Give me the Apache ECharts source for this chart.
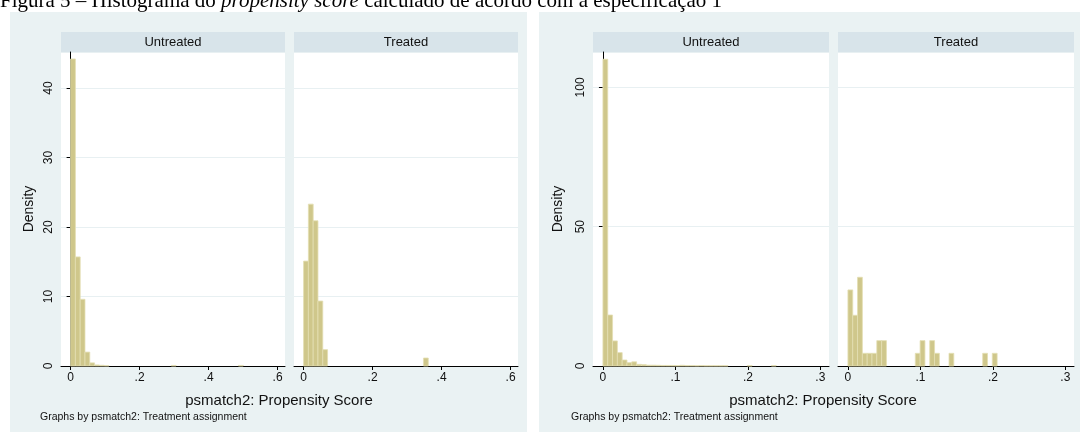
<!DOCTYPE html>
<html>
<head>
<meta charset="utf-8">
<script src="https://cdn.jsdelivr.net/npm/echarts@6/dist/echarts.min.js"></script>
<style>
html,body{margin:0;padding:0;background:#fff;}
#c{width:1080px;height:432px;}
</style>
</head>
<body>
<div id="c"></div>
<script>
// ---- data ----
const panelNames = ['Untreated', 'Treated'];
// Left graph (specification 1, full range) — histogram bins start at 0
const binWidthA = 0.0139;
const untreatedA = [44.2, 15.7, 9.6, 2.0, 0.45, 0.15, 0.1, 0.05, 0, 0, 0, 0, 0, 0, 0, 0, 0, 0, 0, 0, 0, 0.08, 0, 0, 0, 0, 0, 0, 0, 0, 0, 0, 0, 0, 0, 0.08];
const treatedA = [15.1, 23.3, 20.9, 9.35, 2.35, 0, 0, 0, 0, 0, 0, 0, 0, 0, 0, 0, 0, 0, 0, 0, 0, 0, 0, 0, 0, 1.15];
const xTicksA = [0, 0.2, 0.4, 0.6];
const yTicksA = 10;
// Right graph (restricted range)
const binWidthB = 0.00664;
const untreatedB = [110.1, 18.3, 9.0, 4.8, 2.15, 1.2, 1.5, 0.6, 0.5, 0.3, 0.3, 0.25, 0.2, 0.2, 0.2, 0.15, 0.25, 0.15, 0.15, 0.1, 0.15, 0.1, 0.1, 0.1, 0.1, 0.1, 0, 0, 0, 0, 0.15, 0, 0, 0, 0, 0.15];
const treatedB = [27.3, 18.2, 31.85, 4.55, 4.55, 4.55, 9.1, 9.1, 0, 0, 0, 0, 0, 0, 4.55, 9.1, 0, 9.1, 4.55, 0, 0, 4.55, 0, 0, 0, 0, 0, 0, 4.55, 0, 4.55];
const xTicksB = [0, 0.1, 0.2, 0.3];
const yTicksB = 50;
const yLabel = 'Density';
const xLabel = 'psmatch2: Propensity Score';
const footNote = 'Graphs by psmatch2: Treatment assignment';

// ---- chart ----
const FONT = 'Liberation Sans, Arial, sans-serif';
const BAR = '#cfc78b', BAR_EDGE = '#e3deb3';
const BG = '#eaf2f3', STRIP = '#d8e4ea', GRIDC = '#e8f0f2';

function bins(arr, w) {
  const out = [];
  arr.forEach((h, i) => { if (h > 0) out.push([i * w, (i + 1) * w, h]); });
  return out;
}
function fmt(v) { return v === 0 ? '0' : String(v).replace(/^0\./, '.'); }

const panels = [
  {left: 61, width: 224, data: bins(untreatedA, binWidthA), xmin: -0.0278, xmax: 0.6215, ymax: 45.2, yint: yTicksA, xt: xTicksA, main: true, gap: 25},
  {left: 294, width: 224, data: bins(treatedA, binWidthA), xmin: -0.0278, xmax: 0.6215, ymax: 45.2, yint: yTicksA, xt: xTicksA, main: false, gap: 25},
  {left: 593, width: 236, data: bins(untreatedB, binWidthB), xmin: -0.0137, xmax: 0.3119, ymax: 112.7, yint: yTicksB, xt: xTicksB, main: true, gap: 28},
  {left: 838, width: 236, data: bins(treatedB, binWidthB), xmin: -0.0137, xmax: 0.3119, ymax: 112.7, yint: yTicksB, xt: xTicksB, main: false, gap: 28}
];
const TOP = 52, H = 314;

const grid = [], xAxis = [], yAxis = [], series = [];
panels.forEach((p, i) => {
  grid.push({left: p.left, top: TOP, width: p.width, height: H, show: true, backgroundColor: '#fff', borderWidth: 0});
  xAxis.push({
    type: 'value', gridIndex: i, min: p.xmin, max: p.xmax,
    axisLine: {show: true, onZero: false, lineStyle: {color: '#000', width: 1}},
    axisTick: {show: true, length: 4, lineStyle: {color: '#000'}, customValues: p.xt},
    axisLabel: {show: true, customValues: p.xt, formatter: fmt, color: '#111', fontFamily: FONT, fontSize: 12, margin: 6},
    splitLine: {show: false}
  });
  yAxis.push({
    type: 'value', gridIndex: i, min: 0, max: p.ymax, interval: p.yint,
    name: p.main ? yLabel : '', nameLocation: 'middle', nameGap: p.gap,
    nameTextStyle: {color: '#111', fontFamily: FONT, fontSize: 14},
    axisLine: {show: p.main, lineStyle: {color: '#000', width: 1}},
    axisTick: {show: p.main, length: 4, lineStyle: {color: '#000'}},
    axisLabel: {show: p.main, rotate: 90, color: '#111', fontFamily: FONT, fontSize: 12, margin: 6, showMaxLabel: false},
    splitLine: {show: true, lineStyle: {color: GRIDC, width: 1}}
  });
  series.push({
    type: 'custom', xAxisIndex: i, yAxisIndex: i, data: p.data, silent: true,
    renderItem: function (params, api) {
      const a = api.coord([api.value(0), api.value(2)]);
      const b = api.coord([api.value(1), 0]);
      return {type: 'rect', shape: {x: a[0], y: a[1], width: b[0] - a[0], height: b[1] - a[1]},
        style: {fill: BAR, stroke: BAR_EDGE, lineWidth: 0.8}};
    }
  });
});

const graphic = [
  {type: 'rect', shape: {x: 10, y: 12, width: 517, height: 420}, style: {fill: BG}, z: -10},
  {type: 'rect', shape: {x: 539, y: 12, width: 541, height: 420}, style: {fill: BG}, z: -10},
  {type: 'text', x: 0, y: 1, z: 10, style: {
    text: 'Figura 5 – Histograma do {i|propensity score} calculado de acordo com a especificação 1',
    font: '21px "Liberation Serif", "Times New Roman", serif', fill: '#000', verticalAlign: 'middle',
    rich: {i: {fontStyle: 'italic', fontFamily: 'Liberation Serif', fontSize: 21, fill: '#000'}}}}
];
panels.forEach((p, i) => {
  graphic.push({type: 'rect', shape: {x: p.left, y: 32, width: p.width, height: 20}, style: {fill: STRIP}});
  graphic.push({type: 'text', x: p.left + p.width / 2, y: 42, style: {text: panelNames[i % 2], font: '13px ' + FONT, fill: '#111', align: 'center', verticalAlign: 'middle'}});
});
[[279, 40], [823, 571]].forEach(([cx, fx]) => {
  graphic.push({type: 'text', x: cx, y: 401, style: {text: xLabel, font: '15px ' + FONT, fill: '#111', align: 'center', verticalAlign: 'middle'}});
  graphic.push({type: 'text', x: fx, y: 417, style: {text: footNote, font: '10.5px ' + FONT, fill: '#111', align: 'left', verticalAlign: 'middle'}});
});

const chart = echarts.init(document.getElementById('c'), null, {renderer: 'canvas'});
chart.setOption({animation: false, backgroundColor: '#fff', grid, xAxis, yAxis, series, graphic});
</script>
</body>
</html>
